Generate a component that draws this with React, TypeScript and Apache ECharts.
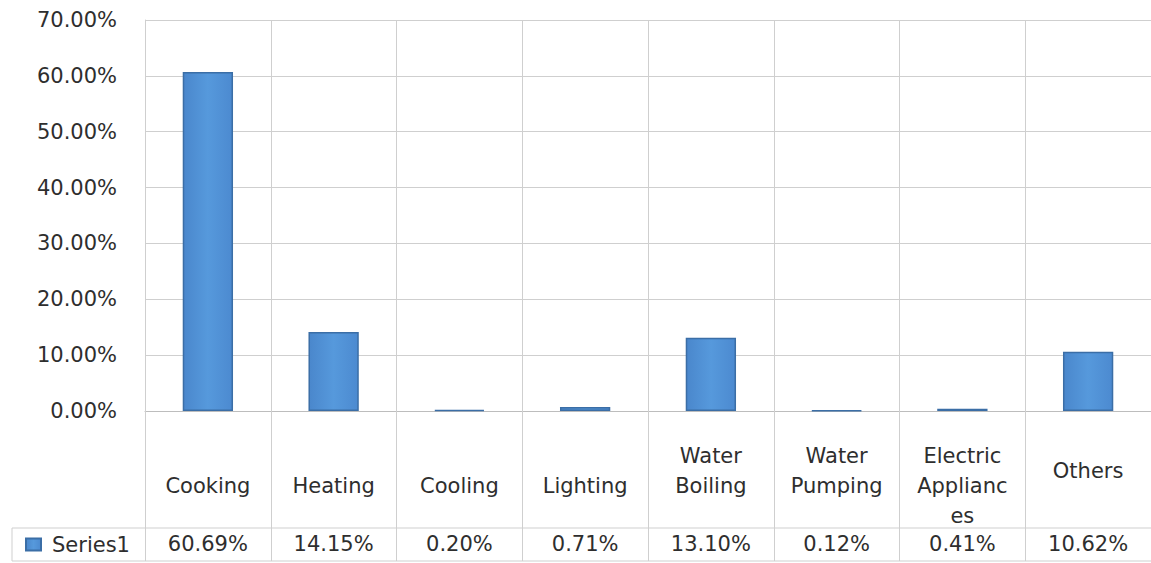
import React, { useEffect, useRef } from "react";
import * as echarts from "echarts";

// Share of household energy use by end use, in percent
const categories = [
  "Cooking",
  "Heating",
  "Cooling",
  "Lighting",
  "Water Boiling",
  "Water Pumping",
  "Electric Appliances",
  "Others",
];
const values = [60.69, 14.15, 0.2, 0.71, 13.1, 0.12, 0.41, 10.62];
const seriesName = "Series1";
const yTicks = { min: 0, max: 70, interval: 10 };

// How each category name wraps inside its table cell
const labelLines: Record<string, string[]> = {
  Cooking: ["Cooking"],
  Heating: ["Heating"],
  Cooling: ["Cooling"],
  Lighting: ["Lighting"],
  "Water Boiling": ["Water", "Boiling"],
  "Water Pumping": ["Water", "Pumping"],
  "Electric Appliances": ["Electric", "Applianc", "es"],
  Others: ["Others"],
};

const FONT = "DejaVu Sans";
const TEXT = "#2e2e2e";
const GRID = "#cfcfcf";

export default function App() {
  const ref = useRef<HTMLDivElement>(null);

  useEffect(() => {
    if (!ref.current) return;
    const chart = echarts.init(ref.current, undefined, { renderer: "svg" });

    const richBase = { fontFamily: FONT, fontSize: 21, color: TEXT };

    chart.setOption({
      animation: false,
      backgroundColor: "#ffffff",
      textStyle: { fontFamily: FONT },
      grid: { left: 145, top: 20, width: 1012, height: 391, containLabel: false },
      legend: {
        left: 25,
        top: 534,
        itemWidth: 15,
        itemHeight: 12,
        icon: "rect",
        padding: 0,
        selectedMode: false,
        textStyle: { fontFamily: FONT, fontSize: 21, color: TEXT, padding: [0, 0, 0, 6] },
        data: [seriesName],
      },
      xAxis: [
        {
          type: "category",
          data: categories,
          boundaryGap: true,
          axisLine: { show: true, lineStyle: { color: "#bdbdbd", width: 1 } },
          axisTick: {
            show: true,
            interval: 0,
            length: 150,
            lineStyle: { color: GRID, width: 1 },
          },
          splitLine: { show: true, interval: 0, lineStyle: { color: GRID, width: 1 } },
          axisLabel: {
            interval: 0,
            margin: 30,
            verticalAlign: "top",
            align: "center",
            formatter: (v: string) => {
              const lines = labelLines[v] || [v];
              if (lines.length === 1) {
                return v === "Others" ? `{mid|${lines[0]}}` : `{low|${lines[0]}}`;
              }
              return lines.map((l) => `{row|${l}}`).join("\n");
            },
            rich: {
              row: { ...richBase, lineHeight: 30 },
              mid: { ...richBase, lineHeight: 60 },
              low: { ...richBase, lineHeight: 90 },
            },
          },
        },
        {
          // data table row with each category's value
          type: "category",
          data: categories,
          position: "bottom",
          offset: 133,
          axisLine: { show: false },
          axisTick: { show: false },
          splitLine: { show: false },
          axisLabel: {
            interval: 0,
            margin: 0,
            verticalAlign: "middle",
            fontFamily: FONT,
            fontSize: 21,
            color: TEXT,
            formatter: (_v: string, i: number) => `${values[i].toFixed(2)}%`,
          },
        },
      ],
      yAxis: {
        type: "value",
        min: yTicks.min,
        max: yTicks.max,
        interval: yTicks.interval,
        axisLine: { show: true, lineStyle: { color: GRID, width: 1 } },
        axisTick: { show: false },
        splitLine: { show: true, lineStyle: { color: GRID, width: 1 } },
        axisLabel: {
          margin: 28,
          fontFamily: FONT,
          fontSize: 21,
          color: TEXT,
          formatter: (v: number) => `${v.toFixed(2)}%`,
        },
      },
      series: [
        {
          name: seriesName,
          type: "bar",
          data: values,
          xAxisIndex: 0,
          barWidth: "40%",
          itemStyle: {
            color: new echarts.graphic.LinearGradient(0, 0, 1, 0, [
              { offset: 0, color: "#4a87cc" },
              { offset: 0.5, color: "#5699dc" },
              { offset: 1, color: "#4c8ad0" },
            ]),
            borderColor: "#3b6ea6",
            borderWidth: 1.5,
          },
        },
      ],
      graphic: [
        {
          type: "line",
          shape: { x1: 12, y1: 528, x2: 1151, y2: 528 },
          style: { stroke: GRID, lineWidth: 1 },
          silent: true,
        },
        {
          type: "line",
          shape: { x1: 12, y1: 561, x2: 1151, y2: 561 },
          style: { stroke: GRID, lineWidth: 1 },
          silent: true,
        },
        {
          type: "line",
          shape: { x1: 12, y1: 528, x2: 12, y2: 561 },
          style: { stroke: GRID, lineWidth: 1 },
          silent: true,
        },
      ],
    });

    return () => chart.dispose();
  }, []);

  return (
    <div
      ref={ref}
      style={{ position: "absolute", left: 0, top: 0, width: 1151, height: 563, background: "#fff" }}
    />
  );
}
